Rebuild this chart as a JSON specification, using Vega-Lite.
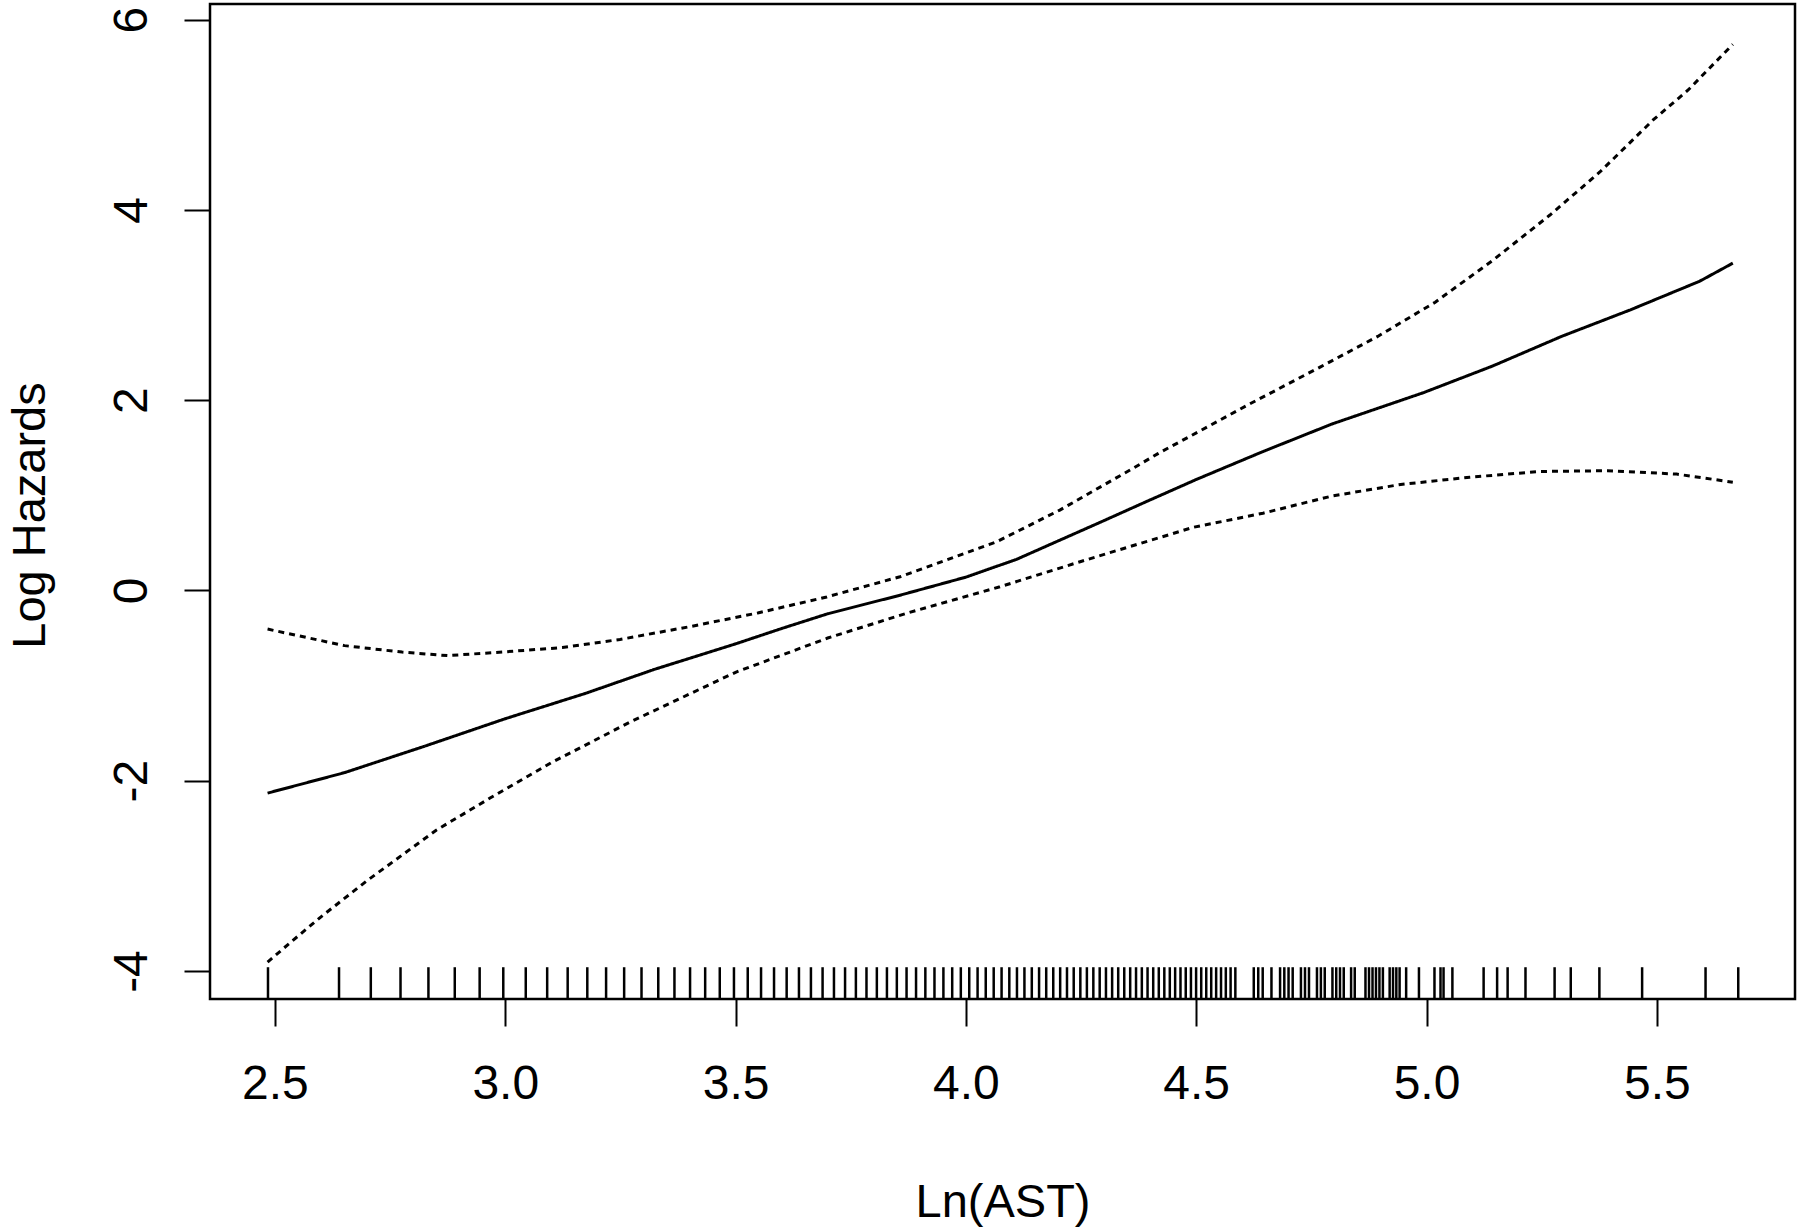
{
  "$schema": "https://vega.github.io/schema/vega-lite/v6.json",
  "width": 1585,
  "height": 995,
  "autosize": {"type": "none"},
  "padding": {"left": 210, "top": 4, "right": 5, "bottom": 232},
  "background": "white",
  "config": {
    "font": "Liberation Sans",
    "view": {"stroke": "black", "strokeWidth": 2.5},
    "axis": {"domain": false, "grid": false, "tickColor": "black", "tickWidth": 2, "labelColor": "black", "titleColor": "black", "labelFont": "Liberation Sans", "titleFont": "Liberation Sans", "labelFontSize": 48, "titleFontSize": 47, "titleFontWeight": "normal", "labelFlush": false, "labelOverlap": false}
  },
  "datasets": {
    "curves": [
      {"x": 2.484, "y": -2.13, "s": "fit"},
      {"x": 2.651, "y": -1.915, "s": "fit"},
      {"x": 2.825, "y": -1.637, "s": "fit"},
      {"x": 3.0, "y": -1.348, "s": "fit"},
      {"x": 3.174, "y": -1.082, "s": "fit"},
      {"x": 3.324, "y": -0.829, "s": "fit"},
      {"x": 3.499, "y": -0.563, "s": "fit"},
      {"x": 3.6, "y": -0.4, "s": "fit"},
      {"x": 3.7, "y": -0.245, "s": "fit"},
      {"x": 3.857, "y": -0.05, "s": "fit"},
      {"x": 4.0, "y": 0.14, "s": "fit"},
      {"x": 4.11, "y": 0.327, "s": "fit"},
      {"x": 4.2, "y": 0.52, "s": "fit"},
      {"x": 4.291, "y": 0.715, "s": "fit"},
      {"x": 4.39, "y": 0.93, "s": "fit"},
      {"x": 4.501, "y": 1.168, "s": "fit"},
      {"x": 4.645, "y": 1.46, "s": "fit"},
      {"x": 4.795, "y": 1.75, "s": "fit"},
      {"x": 4.994, "y": 2.08, "s": "fit"},
      {"x": 5.144, "y": 2.36, "s": "fit"},
      {"x": 5.293, "y": 2.67, "s": "fit"},
      {"x": 5.443, "y": 2.95, "s": "fit"},
      {"x": 5.593, "y": 3.25, "s": "fit"},
      {"x": 5.665, "y": 3.44, "s": "fit"},
      {"x": 2.484, "y": -0.406, "s": "upper"},
      {"x": 2.651, "y": -0.58, "s": "upper"},
      {"x": 2.776, "y": -0.648, "s": "upper"},
      {"x": 2.875, "y": -0.685, "s": "upper"},
      {"x": 3.0, "y": -0.645, "s": "upper"},
      {"x": 3.124, "y": -0.6, "s": "upper"},
      {"x": 3.249, "y": -0.515, "s": "upper"},
      {"x": 3.399, "y": -0.382, "s": "upper"},
      {"x": 3.548, "y": -0.237, "s": "upper"},
      {"x": 3.698, "y": -0.068, "s": "upper"},
      {"x": 3.857, "y": 0.144, "s": "upper"},
      {"x": 4.067, "y": 0.512, "s": "upper"},
      {"x": 4.204, "y": 0.845, "s": "upper"},
      {"x": 4.363, "y": 1.284, "s": "upper"},
      {"x": 4.418, "y": 1.441, "s": "upper"},
      {"x": 4.62, "y": 1.97, "s": "upper"},
      {"x": 4.77, "y": 2.35, "s": "upper"},
      {"x": 4.894, "y": 2.67, "s": "upper"},
      {"x": 5.019, "y": 3.03, "s": "upper"},
      {"x": 5.144, "y": 3.47, "s": "upper"},
      {"x": 5.268, "y": 3.946, "s": "upper"},
      {"x": 5.377, "y": 4.401, "s": "upper"},
      {"x": 5.492, "y": 4.945, "s": "upper"},
      {"x": 5.568, "y": 5.26, "s": "upper"},
      {"x": 5.665, "y": 5.74, "s": "upper"},
      {"x": 2.484, "y": -3.906, "s": "lower"},
      {"x": 2.536, "y": -3.69, "s": "lower"},
      {"x": 2.6, "y": -3.43, "s": "lower"},
      {"x": 2.7, "y": -3.05, "s": "lower"},
      {"x": 2.85, "y": -2.52, "s": "lower"},
      {"x": 2.967, "y": -2.182, "s": "lower"},
      {"x": 3.1, "y": -1.81, "s": "lower"},
      {"x": 3.271, "y": -1.383, "s": "lower"},
      {"x": 3.5, "y": -0.86, "s": "lower"},
      {"x": 3.7, "y": -0.5, "s": "lower"},
      {"x": 3.871, "y": -0.24, "s": "lower"},
      {"x": 4.074, "y": 0.039, "s": "lower"},
      {"x": 4.248, "y": 0.302, "s": "lower"},
      {"x": 4.494, "y": 0.664, "s": "lower"},
      {"x": 4.645, "y": 0.812, "s": "lower"},
      {"x": 4.795, "y": 0.993, "s": "lower"},
      {"x": 4.944, "y": 1.114, "s": "lower"},
      {"x": 5.094, "y": 1.19, "s": "lower"},
      {"x": 5.243, "y": 1.25, "s": "lower"},
      {"x": 5.393, "y": 1.259, "s": "lower"},
      {"x": 5.543, "y": 1.223, "s": "lower"},
      {"x": 5.665, "y": 1.138, "s": "lower"}
    ],
    "rug": [
      {"v": 2.4849}, {"v": 2.6391}, {"v": 2.7081}, {"v": 2.7726}, {"v": 2.8332}, {"v": 2.8904}, {"v": 2.9444}, {"v": 2.9957},
      {"v": 3.0445}, {"v": 3.091}, {"v": 3.1355}, {"v": 3.1781}, {"v": 3.2189}, {"v": 3.2581}, {"v": 3.2958}, {"v": 3.3322},
      {"v": 3.3673}, {"v": 3.4012}, {"v": 3.434}, {"v": 3.4657}, {"v": 3.4965}, {"v": 3.5264}, {"v": 3.5553}, {"v": 3.5835},
      {"v": 3.6109}, {"v": 3.6376}, {"v": 3.6636}, {"v": 3.6889}, {"v": 3.7136}, {"v": 3.7377}, {"v": 3.7612}, {"v": 3.7842},
      {"v": 3.8067}, {"v": 3.8286}, {"v": 3.8501}, {"v": 3.8712}, {"v": 3.8918}, {"v": 3.912}, {"v": 3.9318}, {"v": 3.9512},
      {"v": 3.9703}, {"v": 3.989}, {"v": 4.0073}, {"v": 4.0254}, {"v": 4.0431}, {"v": 4.0604}, {"v": 4.0775}, {"v": 4.0943},
      {"v": 4.1109}, {"v": 4.1271}, {"v": 4.1431}, {"v": 4.1589}, {"v": 4.1744}, {"v": 4.1897}, {"v": 4.2047}, {"v": 4.2195},
      {"v": 4.2341}, {"v": 4.2485}, {"v": 4.2627}, {"v": 4.2767}, {"v": 4.2905}, {"v": 4.3041}, {"v": 4.3175}, {"v": 4.3307},
      {"v": 4.3438}, {"v": 4.3567}, {"v": 4.3694}, {"v": 4.382}, {"v": 4.3944}, {"v": 4.4067}, {"v": 4.4188}, {"v": 4.4308},
      {"v": 4.4427}, {"v": 4.4543}, {"v": 4.4659}, {"v": 4.4773}, {"v": 4.4886}, {"v": 4.4998}, {"v": 4.5109}, {"v": 4.5218},
      {"v": 4.5326}, {"v": 4.5433}, {"v": 4.5539}, {"v": 4.5643}, {"v": 4.5747}, {"v": 4.585},
      {"v": 4.625}, {"v": 4.6347}, {"v": 4.6444}, {"v": 4.6634}, {"v": 4.6821}, {"v": 4.6913}, {"v": 4.7005}, {"v": 4.7095},
      {"v": 4.7274}, {"v": 4.7362}, {"v": 4.7449}, {"v": 4.7622}, {"v": 4.7707}, {"v": 4.7791}, {"v": 4.7958}, {"v": 4.804},
      {"v": 4.8122}, {"v": 4.8203}, {"v": 4.8363}, {"v": 4.8442}, {"v": 4.8675}, {"v": 4.8752}, {"v": 4.8828}, {"v": 4.8903},
      {"v": 4.8978}, {"v": 4.9053}, {"v": 4.92}, {"v": 4.9273}, {"v": 4.9345}, {"v": 4.9416}, {"v": 4.9558}, {"v": 4.9836},
      {"v": 5.0173}, {"v": 5.0304}, {"v": 5.037}, {"v": 5.0562}, {"v": 5.124}, {"v": 5.1533}, {"v": 5.1761}, {"v": 5.2149},
      {"v": 5.2781}, {"v": 5.3132}, {"v": 5.3753}, {"v": 5.4681}, {"v": 5.6058}, {"v": 5.6768}
    ]
  },
  "layer": [
    {
      "data": {"name": "curves"},
      "mark": {"type": "line", "color": "black", "strokeWidth": 3, "strokeCap": "butt"},
      "encoding": {
        "x": {"field": "x", "type": "quantitative", "scale": {"domain": [2.359, 5.8], "nice": false, "zero": false},
              "axis": {"orient": "bottom", "values": [2.5, 3, 3.5, 4, 4.5, 5, 5.5], "format": ".1f", "tickSize": 27, "labelPadding": 72, "labelBaseline": "alphabetic", "labelAlign": "center", "title": "Ln(AST)", "titleY": 217.7, "titleBaseline": "alphabetic", "titleAnchor": "middle"}},
        "y": {"field": "y", "type": "quantitative", "scale": {"domain": [-4.294, 6.164], "nice": false, "zero": false},
              "axis": {"orient": "left", "values": [-4, -2, 0, 2, 4, 6], "labelExpr": "toString(datum.value)", "tickSize": 26, "labelPadding": 37.6, "labelAngle": -90, "labelAlign": "center", "labelBaseline": "alphabetic", "title": "Log Hazards", "titleAngle": -90, "titleX": -166, "titleY": 511, "titleAlign": "center", "titleBaseline": "alphabetic"}},
        "detail": {"field": "s", "type": "nominal"},
        "strokeDash": {"field": "s", "type": "nominal", "scale": {"domain": ["fit", "lower", "upper"], "range": [[1, 0], [6, 5], [6, 5]]}, "legend": null}
      }
    },
    {
      "data": {"name": "rug"},
      "mark": {"type": "rule", "color": "black", "strokeWidth": 2.5},
      "encoding": {
        "x": {"field": "v", "type": "quantitative"},
        "y": {"datum": -3.96},
        "y2": {"datum": -4.294}
      }
    }
  ]
}
